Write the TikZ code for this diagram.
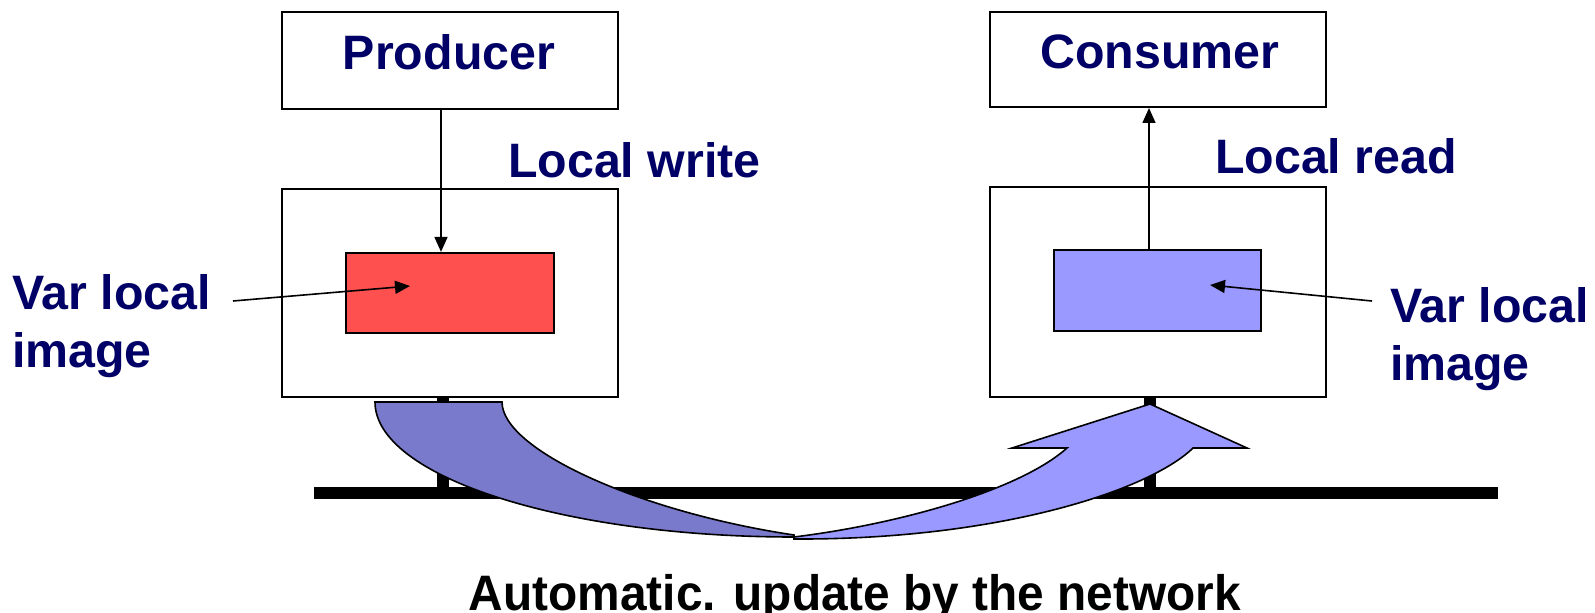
\documentclass[tikz,border=0pt]{standalone}
\usepackage{fontspec}
\setmainfont{Liberation Sans}
\usetikzlibrary{arrows.meta}
\definecolor{navy}{RGB}{0,0,102}
\definecolor{varred}{RGB}{255,80,80}
\definecolor{varblue}{RGB}{153,153,255}
\definecolor{flowdark}{RGB}{122,122,204}
\definecolor{flowlight}{RGB}{153,153,255}
\begin{document}
\begin{tikzpicture}[x=1bp,y=-1bp,
  box/.style={draw=black, line width=2bp, fill=white, inner sep=0},
  varbox/.style={draw=black, line width=2.2bp, inner sep=0},
  lbl/.style={font=\bfseries\fontsize{48.5}{58}\selectfont, text=navy, inner sep=0},
  ptr/.style={line width=1.6bp, -{Triangle[length=15bp,width=13bp]}},
  bus/.style={line width=12bp},
  stub/.style={line width=12bp},
  flow/.style={draw=black, line width=1.6bp}]
\useasboundingbox (0,0) rectangle (1595,613);

% network bus and station taps
\coordinate (busW) at (314,493);
\coordinate (busE) at (1498,493);
\coordinate (tapL) at (443,493);
\coordinate (tapR) at (1150,493);
\draw[bus] (busW) -- (busE);

% application boxes
\node[box, minimum width=336bp, minimum height=97bp] (prod) at (450,60.5) {};
\node[box, minimum width=336bp, minimum height=95bp] (cons) at (1158,59.5) {};
\node[lbl] (prodlbl) at (449,52) {Producer};
\node[lbl] (conslbl) at (1160,52) {Consumer};

% stations on the network
\draw[stub] (tapL |- 0,396) -- (tapL);
\draw[stub] (tapR |- 0,396) -- (tapR);
\node[box, minimum width=336bp, minimum height=208bp] (stL) at (450,293) {};
\node[box, minimum width=336bp, minimum height=210bp] (stR) at (1158,292) {};

% local images of the variable
\node[varbox, fill=varred, minimum width=208bp, minimum height=80bp] (imgL) at (450,293) {};
\node[varbox, fill=varblue, minimum width=207bp, minimum height=81bp] (imgR) at (1157.5,290.5) {};

% local write / local read
\coordinate (wx) at (441,0);
\coordinate (rx) at (1149,0);
\draw[ptr] (prod.south -| wx) -- (imgL.north -| wx);
\draw[ptr] (imgR.north -| rx) -- (cons.south -| rx);
\node[lbl, anchor=west] (wlbl) at (508,160) {Local write};
\node[lbl, anchor=west] (rlbl) at (1215,156) {Local read};

% side labels with pointers
\node[lbl, anchor=west, align=left] (lvar) at (12,326) {Var local\\image};
\node[lbl, anchor=west, align=left] (rvar) at (1390,339) {Var local\\image};
\coordinate (lfrom) at (233,301);
\coordinate (lto) at (410,286);
\coordinate (rfrom) at (1372,301);
\coordinate (rto) at (1210,285);
\draw[ptr] (lfrom) -- (lto);
\draw[ptr] (rfrom) -- (rto);

% automatic update carried by the network
\path[flow, fill=flowlight] (794,537) .. controls (900,524) and (1020,490) .. (1067,448)
  -- (1012,448) -- (1150,404) -- (1247,448) -- (1193,448)
  .. controls (1150,490) and (1000,540) .. (794,539) -- cycle;
\path[flow, fill=flowdark] (375,402) -- (502,402)
  .. controls (502,450) and (640,512) .. (794,535) -- (794,537)
  .. controls (563,537) and (375,476.5) .. (375,402) -- cycle;

\node[font=\bfseries\fontsize{50}{60}\selectfont, anchor=base, inner sep=0] (caption) at (855,610)
  {\scalebox{0.96}[1]{Automatic. update by the network}};
\end{tikzpicture}
\end{document}
